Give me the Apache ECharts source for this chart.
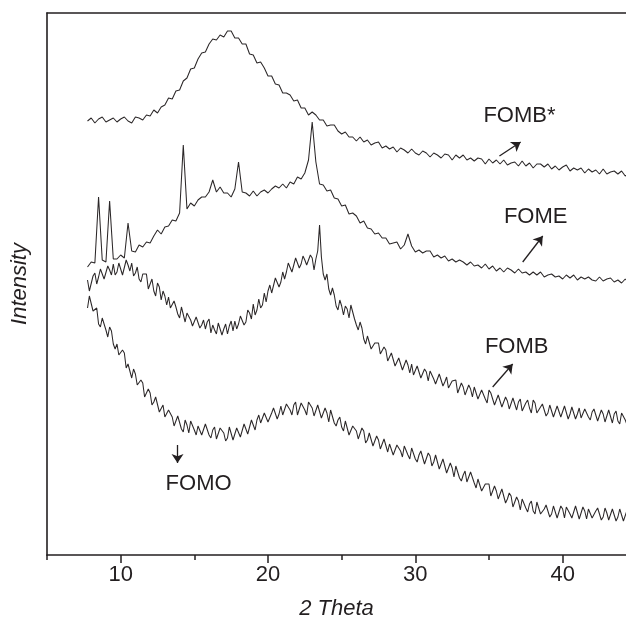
<!DOCTYPE html>
<html><head><meta charset="utf-8">
<script src="https://cdn.jsdelivr.net/npm/echarts@6/dist/echarts.min.js"></script>
<style>html,body{margin:0;padding:0;background:#fff}#c{width:626px;height:619px}</style>
</head><body><div id="c"></div>
<script>
// 2-theta sampling grids of the digitised patterns
const thetaStart = 7.75;
const thetaStepCoarse = 0.25;   // FOMB*, FOME
const thetaStepFine = 0.125;    // FOMB, FOMO
const xTicks = [10, 20, 30, 40];
const xMinorTicks = [5, 15, 25, 35];

// intensities (arbitrary units), 0.25 deg steps from 7.75 to 44.5
const fombStar = [
434,437,432,436,438,433,435,437,
433,436,438,434,432,438,437,435,
440,439,445,442,448,450,457,456,
464,465,474,477,486,487,496,502,
503,511,516,515,520,518,524,524,
517,517,511,511,501,500,492,493,
487,479,479,471,470,462,462,460,
454,455,447,447,440,443,440,435,
435,429,430,430,424,421,423,418,
418,414,418,413,415,410,412,413,
407,409,406,408,403,407,405,402,
406,402,400,404,402,398,402,400,
397,401,400,395,400,397,400,395,
397,394,397,396,391,396,392,395,
391,395,390,392,393,389,394,389,
392,387,391,391,388,391,386,389,
385,388,390,384,387,385,387,382,
386,383,385,381,386,381,383,384,
381,384,379,382];
const fome = [
288,293,292,358,295,293,354,296,
296,300,297,332,304,303,310,308,
313,312,319,325,321,328,329,335,
334,342,410,346,352,349,355,358,
358,363,375,363,368,362,362,358,
366,393,363,362,359,364,359,363,
365,362,366,369,367,371,367,373,
371,378,376,382,395,433,393,371,
370,364,365,357,356,349,350,341,
342,339,332,334,327,326,321,322,
317,317,311,312,313,306,310,321,
309,303,305,302,304,304,298,300,
297,299,294,296,293,295,293,290,
293,289,290,287,291,286,289,284,
287,283,287,285,282,286,282,283,
280,283,280,283,278,280,281,278,
279,276,280,277,280,275,278,276,
278,275,274,278,274,276,277,273,
275,272,276,272];
// intensities (arbitrary units), 0.125 deg steps from 7.75 to 44.5
const fomb = [
275,264,262,279,282,271,278,286,288,276,278,289,285,280,291,280,
283,292,291,280,281,295,290,284,292,279,282,288,276,273,281,282,
281,266,271,276,264,259,272,268,255,264,259,250,258,247,247,254,
248,241,237,248,247,233,242,243,235,229,230,238,239,227,230,235,
226,233,236,222,230,225,221,232,231,220,226,231,221,229,234,224,
234,226,231,239,241,230,233,245,242,236,251,240,245,256,247,250,
262,253,264,270,262,263,277,279,268,273,283,276,283,292,291,283,
285,297,299,287,291,299,295,290,288,300,297,285,296,304,330,298,
281,275,281,266,260,267,260,249,245,255,249,240,249,246,237,250,
249,236,230,225,233,227,216,211,219,221,206,204,212,214,212,201,
199,208,205,194,198,202,202,189,190,197,199,185,185,195,190,182,
191,180,182,189,190,177,175,186,183,174,184,184,176,171,171,181,
182,169,173,178,167,165,174,176,175,162,164,172,168,160,158,170,
166,158,168,167,156,155,165,164,156,152,165,162,156,150,151,160,
161,148,150,158,154,146,145,157,156,145,153,156,144,143,152,155,
147,142,155,152,142,140,148,151,150,139,142,150,151,138,140,149,
147,138,137,149,148,136,141,148,149,136,141,147,137,135,146,147,
138,135,143,146,147,134,135,145,141,133,132,145,143,132,141,144,
134,131,142,143,135,130,142];
const fomo = [
247,259,261,244,246,247,231,228,237,235,225,218,228,224,211,206,
211,200,198,205,202,187,191,193,177,186,181,170,170,175,172,158,
156,166,162,150,153,158,157,143,143,150,138,136,145,143,138,129,
130,139,137,126,123,135,130,122,134,133,125,120,129,131,120,118,
131,129,120,117,125,128,116,115,127,127,122,114,117,128,127,115,
121,127,129,118,120,131,129,121,121,135,134,125,135,140,132,130,
142,144,133,134,142,147,149,136,141,149,140,138,151,151,145,140,
150,153,140,141,152,154,145,140,153,152,147,139,140,150,148,137,
136,147,142,133,145,143,132,129,135,138,128,124,134,134,120,120,
129,130,124,116,115,127,124,112,115,122,123,109,110,119,115,106,
106,116,116,103,111,113,100,100,110,111,104,98,109,109,100,96,
107,106,96,93,100,104,103,91,91,102,99,89,93,100,100,86,
88,96,94,82,80,92,87,78,89,88,77,74,80,84,73,71,
83,81,72,67,76,77,64,63,71,73,71,59,60,69,64,56,
56,66,65,52,56,62,59,48,46,58,54,45,56,56,47,43,
51,54,44,41,53,52,41,39,46,50,51,38,41,49,47,37,
37,49,46,37,48,48,41,37,39,49,49,36,42,48,44,36,
46,48,37,36,44,47,49,35,38,47,42,35,35,46,46,34,
38,46,44,34,35,45,42];

const seriesNames = ['FOMB*', 'FOME', 'FOMB', 'FOMO'];
const seriesValues = [fombStar, fome, fomb, fomo];
const seriesSteps = [thetaStepCoarse, thetaStepCoarse, thetaStepFine, thetaStepFine];

// annotation anchors in data coordinates [2theta, intensity]
const labelAt = [[37.07, 439], [38.17, 338], [36.88, 208], [15.29, 71]];
const arrowFrom = [[35.71, 399], [37.29, 293], [35.25, 168], [13.86, 110]];
const arrowTo = [[37.15, 413], [38.65, 319], [36.61, 191], [13.86, 92]];

const INK = '#231f20';
const FONT = '"Liberation Sans", Arial, Helvetica, sans-serif';
const X_MIN = 5, X_MAX = 44.3, Y_MIN = 0, Y_MAX = 542;

const chart = echarts.init(document.getElementById('c'), null, {renderer: 'canvas'});

const series = seriesValues.map((vals, k) => ({
  name: seriesNames[k],
  type: 'line',
  data: vals.map((v, i) => [thetaStart + i * seriesSteps[k], v]),
  showSymbol: false,
  symbol: 'none',
  lineStyle: {color: '#2b2728', width: 1.05},
  clip: true,
  silent: true,
  z: 2
}));
series[0].markLine = {
  silent: true,
  symbol: ['none', 'arrow'],
  symbolSize: 9,
  lineStyle: {color: INK, width: 1.3, type: 'solid'},
  itemStyle: {color: INK},
  label: {show: false},
  data: arrowFrom.map((f, i) => [{coord: f}, {coord: arrowTo[i]}])
};

const baseX = {type: 'value', min: X_MIN, max: X_MAX, splitLine: {show: false}};
chart.setOption({
  animation: false,
  backgroundColor: '#fff',
  grid: {left: 47, right: 0, top: 13, bottom: 64, containLabel: false, outerBoundsMode: 'none'},
  xAxis: [
    Object.assign({}, baseX, {
      position: 'bottom',
      axisLine: {show: true, onZero: false, lineStyle: {color: INK, width: 1.6}},
      axisTick: {show: true, customValues: xTicks, length: 8, inside: false, lineStyle: {color: INK, width: 1.5}},
      axisLabel: {show: true, customValues: xTicks, fontSize: 22, color: INK, fontFamily: FONT, margin: 9},
      name: '2 Theta', nameLocation: 'middle', nameGap: 43,
      nameTextStyle: {fontSize: 22, fontStyle: 'italic', color: INK, fontFamily: FONT}
    }),
    Object.assign({}, baseX, {
      position: 'bottom',
      axisLine: {show: false},
      axisTick: {show: true, customValues: xMinorTicks, length: 5, inside: false, lineStyle: {color: INK, width: 1.5}},
      axisLabel: {show: false}
    }),
    Object.assign({}, baseX, {
      position: 'top',
      axisLine: {show: true, onZero: false, lineStyle: {color: INK, width: 1.6}},
      axisTick: {show: false},
      axisLabel: {show: false}
    })
  ],
  yAxis: {
    type: 'value', min: Y_MIN, max: Y_MAX,
    axisLine: {show: true, onZero: false, lineStyle: {color: INK, width: 1.6}},
    axisTick: {show: false}, axisLabel: {show: false}, splitLine: {show: false},
    name: 'Intensity', nameLocation: 'middle', nameGap: 16, nameRotate: 90,
    nameTextStyle: {fontSize: 22, fontStyle: 'italic', color: INK, fontFamily: FONT}
  },
  series: series
});

const texts = labelAt.map((p, i) => {
  const px = chart.convertToPixel({xAxisIndex: 0, yAxisIndex: 0}, p);
  return {
    type: 'text', x: px[0], y: px[1], silent: true,
    style: {text: seriesNames[i], fill: INK, font: '22px ' + FONT, align: 'center', verticalAlign: 'middle'}
  };
});
chart.setOption({graphic: texts});
</script></body></html>
